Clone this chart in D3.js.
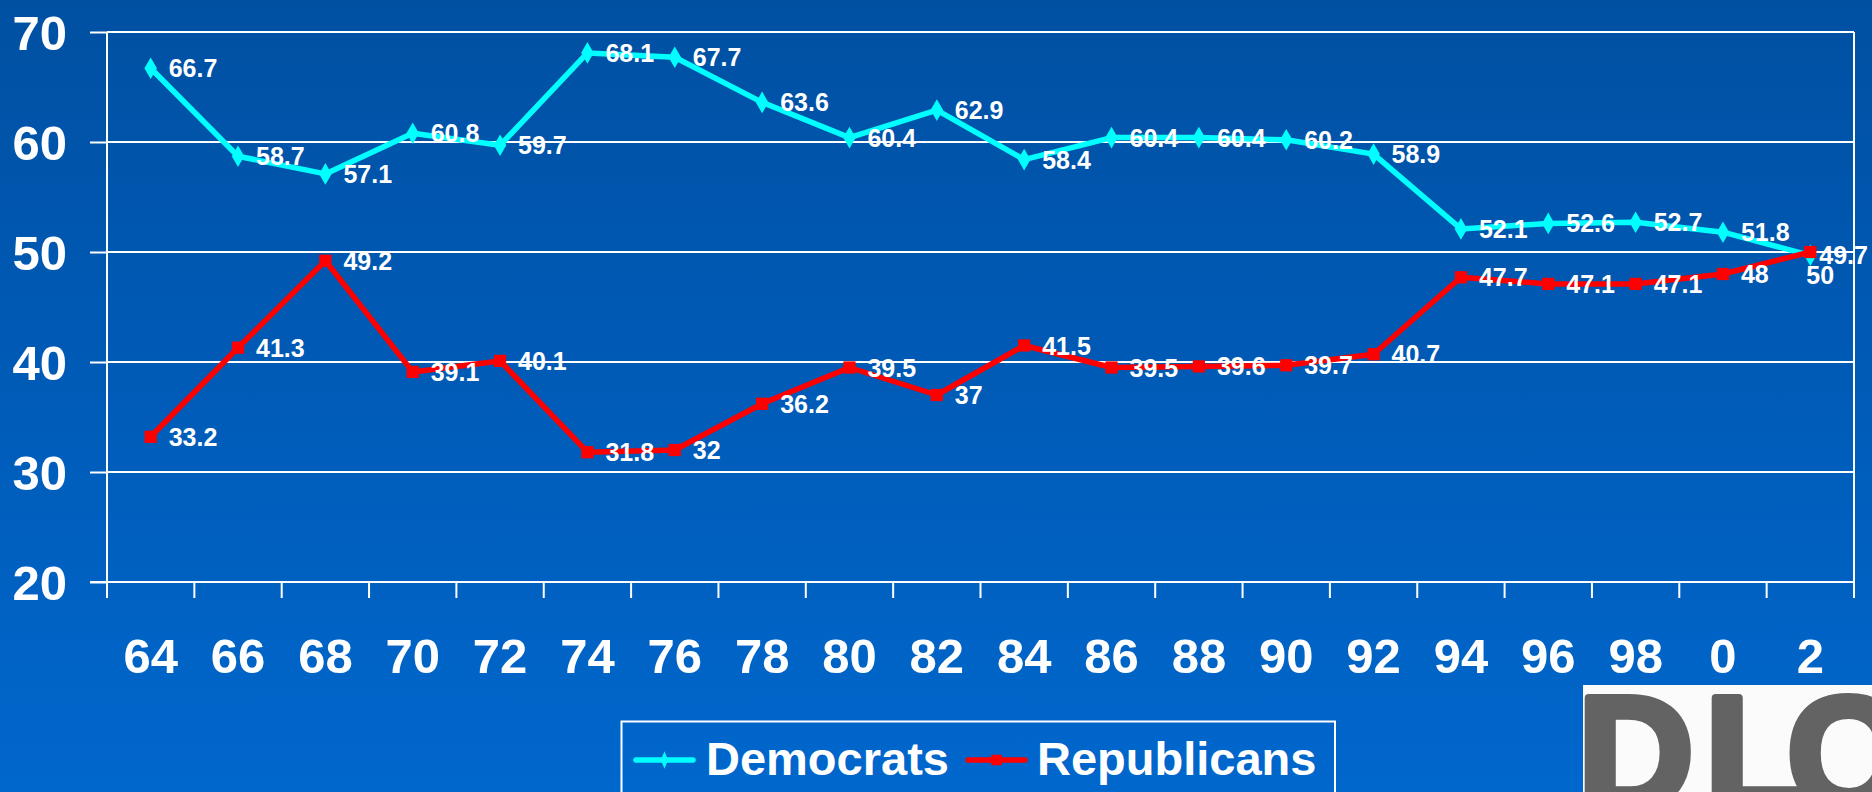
<!DOCTYPE html>
<html>
<head>
<meta charset="utf-8">
<script src="https://cdn.jsdelivr.net/npm/d3@7"></script>
<style>
  html, body { margin: 0; padding: 0; overflow: hidden; }
  text { font-family: Arial, "Liberation Sans", sans-serif; font-weight: bold; fill: #fff; }
</style>
</head>
<body>
<div id="chart"></div>
<script>
// election years (two-digit labels, as on the slide)
const years = ['64', '66', '68', '70', '72', '74', '76', '78', '80', '82',
               '84', '86', '88', '90', '92', '94', '96', '98', '0', '2'];

// percent, one value per year
const democrats   = [66.7, 58.7, 57.1, 60.8, 59.7, 68.1, 67.7, 63.6, 60.4, 62.9,
                     58.4, 60.4, 60.4, 60.2, 58.9, 52.1, 52.6, 52.7, 51.8, 49.7];
const republicans = [33.2, 41.3, 49.2, 39.1, 40.1, 31.8, 32.0, 36.2, 39.5, 37.0,
                     41.5, 39.5, 39.6, 39.7, 40.7, 47.7, 47.1, 47.1, 48.0, 50.0];

const yTicks = [20, 30, 40, 50, 60, 70];

class Chart {

    constructor(opts) {
        this.element = opts.element;
        this.series = opts.series;
        this.draw();
    }

    draw() {
        this.width = 1872;
        this.height = 792;
        // plot box in page pixels
        this.box = { left: 107, right: 1854, top: 32, bottom: 582 };

        this.element.innerHTML = '';
        this.svg = d3.select(this.element).append('svg')
            .attr('width', this.width)
            .attr('height', this.height);

        // slide background
        const grad = this.svg.append('defs').append('linearGradient')
            .attr('id', 'bg').attr('x1', 0).attr('y1', 0).attr('x2', 0).attr('y2', 1);
        grad.append('stop').attr('offset', '0%').attr('stop-color', '#0050a2');
        grad.append('stop').attr('offset', '100%').attr('stop-color', '#0067cd');
        this.svg.append('rect')
            .attr('width', this.width)
            .attr('height', this.height)
            .attr('fill', 'url(#bg)');

        this.createScales();
        this.addAxes();
        this.addLines();
        this.addLabels();
        this.addLegend();
        this.addLogo();
    }

    createScales() {
        const b = this.box;
        this.xScale = d3.scaleBand()
            .domain(years)
            .range([b.left, b.right])
            .padding(0);

        this.yScale = d3.scaleLinear()
            .domain([20, 70])
            .range([b.bottom, b.top]);
    }

    addAxes() {
        const b = this.box;
        const x = this.xScale, y = this.yScale;

        // horizontal gridlines
        this.svg.append('g')
            .selectAll('line')
            .data(yTicks)
            .join('line')
            .attr('x1', b.left).attr('x2', b.right)
            .attr('y1', d => y(d)).attr('y2', d => y(d))
            .attr('stroke', '#fff')
            .attr('stroke-width', 2);

        // y axis with its labels
        const yAxis = d3.axisLeft(y)
            .tickValues(yTicks)
            .tickSize(17)
            .tickPadding(23)
            .tickFormat(d3.format('d'));
        const ya = this.svg.append('g')
            .attr('transform', `translate(${b.left},0)`)
            .call(yAxis);
        ya.select('.domain').remove();
        ya.selectAll('line').attr('stroke', '#fff').attr('stroke-width', 2);
        ya.selectAll('text')
            .attr('dy', '0.36em')
            .style('font-size', '49px')
            .attr('fill', '#fff');

        // x axis labels
        const xAxis = d3.axisBottom(x).tickSize(0).tickPadding(56);
        const xa = this.svg.append('g')
            .attr('transform', `translate(0,${b.bottom})`)
            .call(xAxis);
        xa.select('.domain').remove();
        xa.selectAll('text')
            .style('font-size', '49px')
            .attr('fill', '#fff');

        // tick marks between categories, plus the box sides
        const edges = years.map(d => x(d)).concat([x.range()[1]]);
        this.svg.append('g')
            .selectAll('line')
            .data(edges)
            .join('line')
            .attr('x1', d => d).attr('x2', d => d)
            .attr('y1', b.bottom).attr('y2', b.bottom + 16)
            .attr('stroke', '#fff')
            .attr('stroke-width', 2);

        this.svg.append('path')
            .attr('d', `M${b.left},${b.top}V${b.bottom + 16}M${b.right},${b.top}V${b.bottom + 16}M${b.left - 17},${b.bottom}H${b.right}`)
            .attr('stroke', '#fff')
            .attr('stroke-width', 2)
            .attr('fill', 'none');
    }

    addLines() {
        const x = this.xScale, y = this.yScale;
        const cx = d => x(d.year) + x.bandwidth() / 2;

        const line = d3.line()
            .x(cx)
            .y(d => y(d.value));

        this.series.forEach(s => {
            const pts = years.map((yr, i) => ({ year: yr, value: s.values[i] }));
            const g = this.svg.append('g');
            g.append('path')
                .datum(pts)
                .attr('d', line)
                .attr('fill', 'none')
                .attr('stroke', s.color)
                .attr('stroke-width', 5.5)
                .attr('stroke-linejoin', 'round');

            const marker = s.marker === 'diamond'
                ? d3.symbol().type(d3.symbolDiamond).size(135)()
                : d3.symbol().type(d3.symbolSquare).size(150)();
            g.selectAll('path.mark')
                .data(pts)
                .join('path')
                .attr('class', 'mark')
                .attr('transform', d => `translate(${cx(d)},${y(d.value)})`)
                .attr('d', marker)
                .attr('fill', s.color);
        });
    }

    addLabels() {
        const x = this.xScale, y = this.yScale;
        const cx = yr => x(yr) + x.bandwidth() / 2;
        const last = years.length - 1;

        // the two end labels were nudged on the slide so they don't collide
        const dx = (s, i) => i !== last ? 18 : (s.name === 'Republicans' ? -4 : 9);
        const dy = (s, i) => (i === last && s.name === 'Republicans') ? 23 : 0;

        this.series.forEach(s => {
            this.svg.append('g')
                .selectAll('text')
                .data(s.values)
                .join('text')
                .attr('x', (d, i) => cx(years[i]) + dx(s, i))
                .attr('y', (d, i) => y(d) + dy(s, i))
                .attr('dy', '0.36em')
                .style('font-size', '25px')
                .text(d => d3.format('')(d));
        });
    }

    addLegend() {
        const lg = this.svg.append('g');
        lg.append('rect')
            .attr('x', 621.5).attr('y', 721.5)
            .attr('width', 713.5).attr('height', 120)
            .attr('fill', 'none')
            .attr('stroke', '#fff')
            .attr('stroke-width', 2);

        const items = [
            { s: this.series[0], x0: 636, tx: 706 },
            { s: this.series[1], x0: 968, tx: 1037 }
        ];
        items.forEach(it => {
            lg.append('line')
                .attr('x1', it.x0).attr('x2', it.x0 + 57)
                .attr('y1', 760).attr('y2', 760)
                .attr('stroke', it.s.color)
                .attr('stroke-width', 5.5)
                .attr('stroke-linecap', 'round');
            lg.append('path')
                .attr('transform', `translate(${it.x0 + 28.5},760)` + (it.s.marker === 'diamond' ? ' scale(0.7,1)' : ''))
                .attr('d', it.s.marker === 'diamond'
                    ? d3.symbol().type(d3.symbolDiamond).size(90)()
                    : d3.symbol().type(d3.symbolSquare).size(110)())
                .attr('fill', it.s.color);
            lg.append('text')
                .attr('x', it.tx).attr('y', 775)
                .style('font-size', '47px')
                .text(it.s.name);
        });
    }

    addLogo() {
        const logo = this.svg.append('g');
        logo.append('rect')
            .attr('x', 1583).attr('y', 685)
            .attr('width', this.width - 1583).attr('height', this.height - 685)
            .attr('fill', '#fbfbfb');
        const letters = [['D', 1578], ['L', 1705], ['C', 1787]];
        logo.selectAll('text')
            .data(letters)
            .join('text')
            .attr('x', d => d[1])
            .attr('y', 808)
            .text(d => d[0])
            .style('font-size', '160px')
            .style('fill', '#636363')
            .attr('stroke', '#636363')
            .attr('stroke-width', 8)
            .attr('stroke-linejoin', 'round');
    }
}

new Chart({
    element: document.getElementById('chart'),
    series: [
        { name: 'Democrats', values: democrats, color: '#00ffff', marker: 'diamond' },
        { name: 'Republicans', values: republicans, color: '#ff0000', marker: 'square' }
    ]
});
</script>
</body>
</html>
